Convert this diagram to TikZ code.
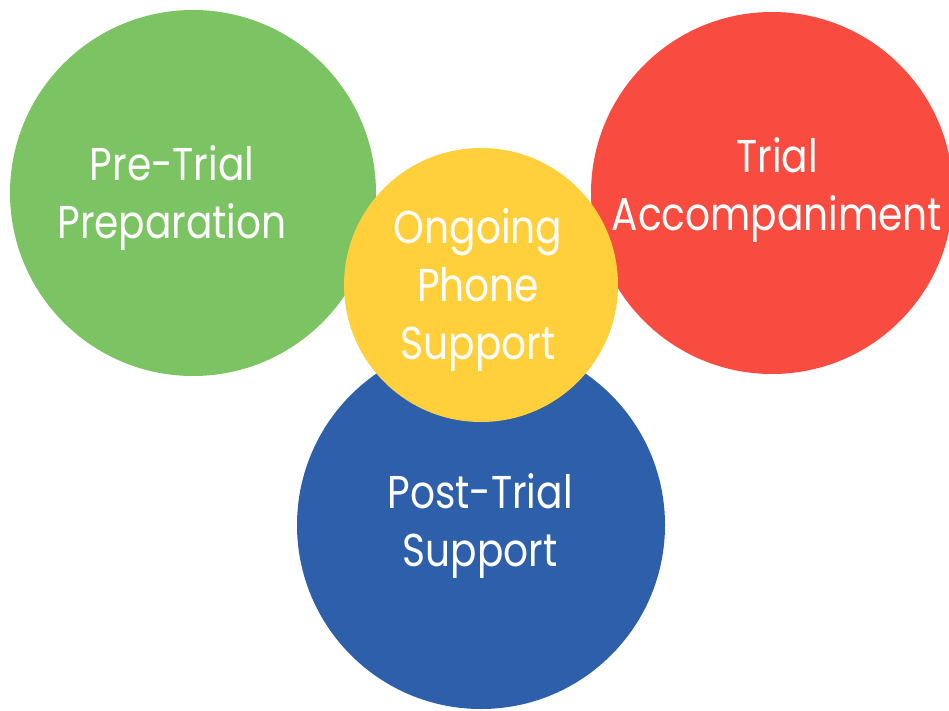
\documentclass[tikz,border=0pt]{standalone}
\usepackage{fontspec}
\setmainfont{Poppins}
\definecolor{cgreen}{HTML}{7CC463}
\definecolor{cred}{HTML}{F84C40}
\definecolor{cblue}{HTML}{2E5FAB}
\definecolor{cyellow}{HTML}{FFD03C}
\tikzset{
  disc/.style={circle, inner sep=0pt, draw=none},
  lbl/.style={text=white, align=center, xscale=0.85, transform shape, font=\fontsize{46}{58}\selectfont},
}
\begin{document}
\begin{tikzpicture}[x=1pt,y=-1pt]
\useasboundingbox (0,0) rectangle (949,711);
\node[disc, fill=cgreen, minimum size=366pt] (green) at (193,193) {};
\node[disc, fill=cred, minimum size=362pt] (red) at (772,193) {};
\node[disc, fill=cblue, minimum size=368pt] (blue) at (481,525) {};
\node[disc, fill=cyellow, minimum size=274pt] (yellow) at (481,285) {};
\node[lbl] (tgreen) at (172,198) {Pre-Trial\\Preparation};
\node[lbl] (tred) at (777,190) {Trial\\Accompaniment};
\node[lbl] (tyellow) at (478,290) {Ongoing\\Phone\\Support};
\node[lbl] (tblue) at (480,526) {Post-Trial\\Support};
\end{tikzpicture}
\end{document}
